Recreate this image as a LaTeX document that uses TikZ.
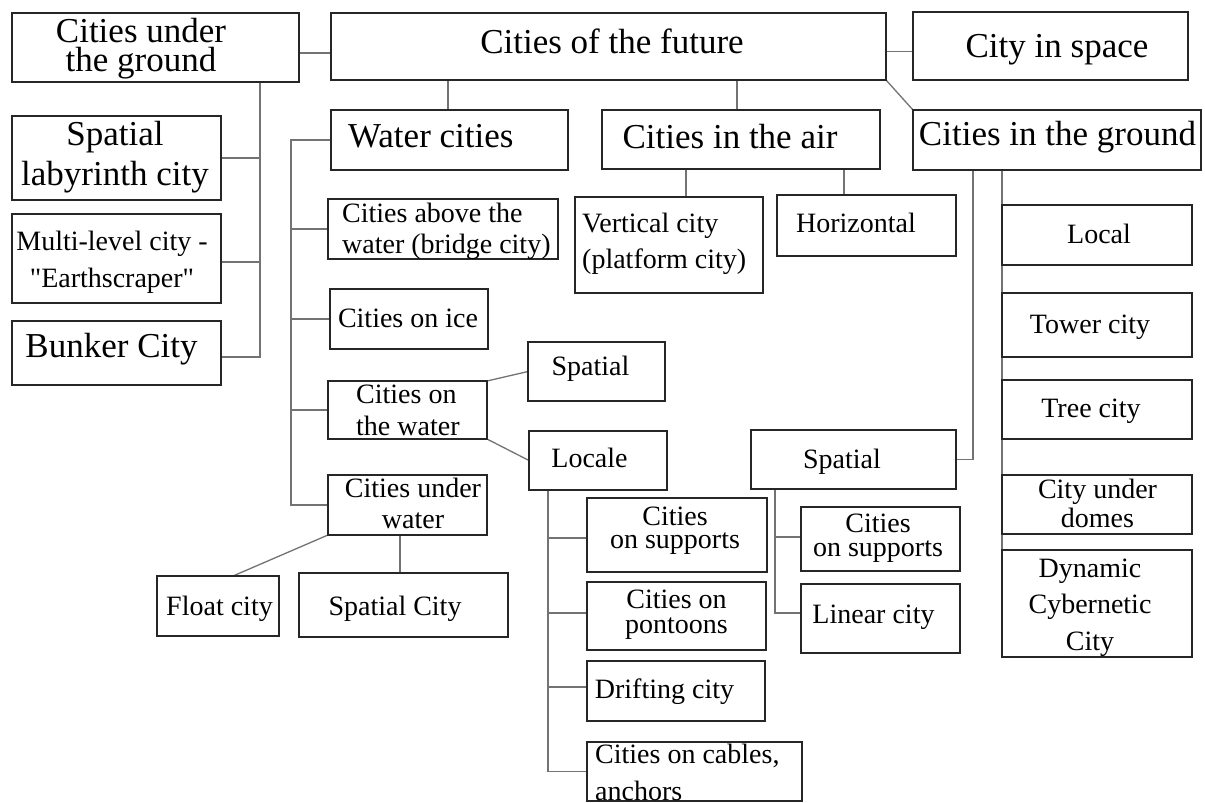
\documentclass[tikz,border=0pt]{standalone}
\usepackage{fontspec}
\setmainfont{Liberation Serif}[Ligatures=TeXOff]
\usetikzlibrary{fit,backgrounds}
\newcommand\CL[1]{\vtop{\halign{\hfil##\hfil\cr#1\crcr}}}
\newcommand\LL[1]{\vtop{\halign{##\hfil\cr#1\crcr}}}
\tikzset{
 bx/.style={draw=black!85, line width=1.6pt, fill=white, inner sep=0pt, outer sep=0pt},
 conn/.style={draw=black!55, line width=1.3pt},
 big/.style={inner sep=0pt, anchor=base, font=\fontsize{35}{28}\selectfont},
 med/.style={inner sep=0pt, anchor=base, font=\fontsize{28}{32}\selectfont},
 lsk/.style={font=\fontsize{28}{#1}\selectfont},
}
\begin{document}
\begin{tikzpicture}[x=1pt,y=-1pt]
\useasboundingbox (0,0) rectangle (1205,803);
% boxes
\node[bx, fit={(12,13)(299,82)}] (ug) {};
\node[bx, fit={(331,13)(886,80)}] (fut) {};
\node[bx, fit={(913,12)(1188,80)}] (sp) {};
\node[bx, fit={(331,110)(568,170)}] (wc) {};
\node[bx, fit={(602,110)(880,169)}] (air) {};
\node[bx, fit={(913,110)(1201,170)}] (gr) {};
\node[bx, fit={(12,116)(221,200)}] (lab) {};
\node[bx, fit={(12,214)(221,303)}] (ml) {};
\node[bx, fit={(12,321)(221,385)}] (bunk) {};
\node[bx, fit={(328,199)(558,259)}] (ab) {};
\node[bx, fit={(330,289)(488,349)}] (ice) {};
\node[bx, fit={(328,381)(487,439)}] (ow) {};
\node[bx, fit={(528,342)(665,401)}] (sw) {};
\node[bx, fit={(529,431)(667,490)}] (loc) {};
\node[bx, fit={(328,475)(487,535)}] (uw) {};
\node[bx, fit={(157,576)(279,636)}] (fl) {};
\node[bx, fit={(299,573)(508,637)}] (spc) {};
\node[bx, fit={(575,197)(763,293)}] (vc) {};
\node[bx, fit={(777,195)(956,256)}] (hz) {};
\node[bx, fit={(1002,205)(1192,265)}] (lcl) {};
\node[bx, fit={(1002,293)(1192,357)}] (tw) {};
\node[bx, fit={(1002,380)(1192,439)}] (tr) {};
\node[bx, fit={(1002,475)(1192,534)}] (dm) {};
\node[bx, fit={(1002,550)(1192,657)}] (dyn) {};
\node[bx, fit={(587,498)(767,572)}] (cs1) {};
\node[bx, fit={(587,582)(766,650)}] (cp) {};
\node[bx, fit={(587,661)(765,721)}] (dr) {};
\node[bx, fit={(587,742)(802,801)}] (cab) {};
\node[bx, fit={(751,430)(956,489)}] (gsp) {};
\node[bx, fit={(801,507)(960,571)}] (cs2) {};
\node[bx, fit={(801,584)(960,653)}] (lin) {};
% texts
\node[big, font=\fontsize{35}{29}\selectfont] (tug) at (141,42) {\CL{Cities under\cr the ground}};
\node[big] (tfut) at (612,53) {Cities of the future};
\node[big] (tsp) at (1057,57) {City in space};
\node[big, anchor=base west] (twc) at (348,147) {Water cities};
\node[big] (tair) at (730,148) {Cities in the air};
\node[big] (tgr) at (1057.5,145) {Cities in the ground};
\node[big, font=\fontsize{35}{40}\selectfont] (tlab) at (115,145) {\CL{Spatial\cr labyrinth city}};
\node[med, lsk=36.5] (tml) at (112,250.7) {\CL{Multi-level city -\cr "Earthscraper"}};
\node[big] (tbunk) at (111.5,357) {Bunker City};
\node[med, lsk=31, anchor=base west] (tab) at (342,222) {\LL{Cities above the\cr water (bridge city)}};
\node[med] (tice) at (408,327) {Cities on ice};
\node[med, lsk=32, anchor=base west] (tow) at (356,403) {\LL{Cities on\cr the water}};
\node[med] (tsw) at (590.5,375) {Spatial};
\node[med] (tloc) at (589.5,467) {Locale};
\node[med, lsk=31] (tuw) at (413,497) {\CL{Cities under\cr water}};
\node[med] (tfl) at (219.5,615) {Float city};
\node[med] (tspc) at (395,615) {Spatial City};
\node[med, lsk=35.5, anchor=base west] (tvc) at (582,232.7) {\LL{Vertical city\cr (platform city)}};
\node[med] (thz) at (856,232) {Horizontal};
\node[med] (tlcl) at (1099,243) {Local};
\node[med] (ttw) at (1090,333) {Tower city};
\node[med] (ttr) at (1091,417) {Tree city};
\node[med, lsk=29] (tdm) at (1097.5,498) {\CL{City under\cr domes}};
\node[med, lsk=36.5] (tdyn) at (1090,577) {\CL{Dynamic\cr Cybernetic\cr City}};
\node[med, lsk=23] (tcs1) at (675,525) {\CL{Cities\cr on supports}};
\node[med, lsk=25] (tcp) at (676.5,608) {\CL{Cities on\cr pontoons}};
\node[med] (tdr) at (664.5,698) {Drifting city};
\node[med, lsk=37, anchor=base west] (tcab) at (595,763) {\LL{Cities on cables,\cr anchors}};
\node[med] (tgsp) at (842,468) {Spatial};
\node[med, lsk=24] (tcs2) at (878,532) {\CL{Cities\cr on supports}};
\node[med] (tlin) at (873.5,623) {Linear city};
% connectors
\begin{pgfonlayer}{background}
\fill[white] (0,0) rectangle (1205,803);
\draw[conn] ([yshift=-5.5pt]ug.east) -- ([yshift=-5.5pt]ug.east -| fut.west);
\draw[conn] ([yshift=-5pt]fut.east) -- ([yshift=-5pt]fut.east -| sp.west);
\draw[conn] ([xshift=-1.5pt]wc.north) -- ([xshift=-1.5pt]wc.north |- fut.south);
\draw[conn] ([xshift=-4pt]air.north) -- ([xshift=-4pt]air.north |- fut.south);
\draw[conn] (fut.south east) -- (gr.north west);
\coordinate (ugb) at (260,0);
\draw[conn] (ugb |- ug.south) |- ([yshift=-4pt]bunk.east);
\draw[conn] (lab.east) -- (lab.east -| ugb);
\draw[conn] ([yshift=-3.5pt]ml.east) -- ([yshift=-3.5pt]ml.east -| ugb);
\coordinate (wb) at (291,0);
\draw[conn] (wc.west) -| (wb |- uw.west) -- (uw.west);
\draw[conn] (ab.west) -- (ab.west -| wb);
\draw[conn] (ice.west) -- (ice.west -| wb);
\draw[conn] (ow.west) -- (ow.west -| wb);
\draw[conn] (ow.north east) -- (sw.west);
\draw[conn] (ow.south east) -- (loc.west);
\draw[conn] (uw.south west) -- ([xshift=15pt]fl.north);
\draw[conn] ([xshift=-3.5pt]spc.north) -- ([xshift=-3.5pt]spc.north |- uw.south);
\draw[conn] ([xshift=-55pt]air.south) -- ([xshift=-55pt]air.south |- vc.north);
\draw[conn] ([xshift=-22.5pt]hz.north) -- ([xshift=-22.5pt]hz.north |- air.south);
\coordinate (gb) at (973,0);
\draw[conn] (gb |- gr.south) |- (gsp.east);
\draw[conn] (dyn.north west |- gr.south) -- (dyn.north west);
\coordinate (lb) at (548,0);
\draw[conn] (lb |- loc.south) |- (cab.west);
\draw[conn] ([yshift=-3pt]cs1.west) -- ([yshift=-3pt]cs1.west -| lb);
\draw[conn] ([yshift=3pt]cp.west) -- ([yshift=3pt]cp.west -| lb);
\draw[conn] ([yshift=4pt]dr.west) -- ([yshift=4pt]dr.west -| lb);
\coordinate (gsb) at (775,0);
\draw[conn] (gsb |- gsp.south) |- ([yshift=5.5pt]lin.west);
\draw[conn] ([yshift=2pt]cs2.west) -- ([yshift=2pt]cs2.west -| gsb);
\end{pgfonlayer}
\end{tikzpicture}
\end{document}
